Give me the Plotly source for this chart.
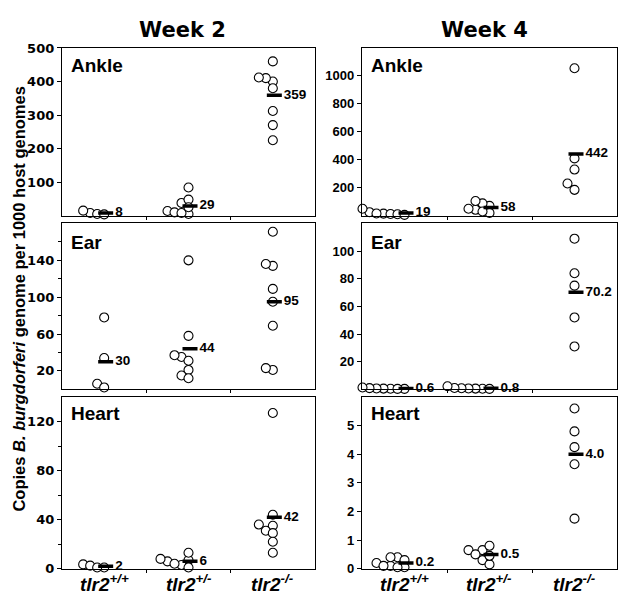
import plotly.graph_objects as go

W, H = 619, 604

# ---------------- data ----------------
categories = ["tlr2+/+", "tlr2+/-", "tlr2-/-"]
category_html = ["<b><i>tlr2<sup>+/+</sup></i></b>",
                 "<b><i>tlr2<sup>+/-</sup></i></b>",
                 "<b><i>tlr2<sup>-/-</sup></i></b>"]
tissues = ["Ankle", "Ear", "Heart"]
weeks = ["Week 2", "Week 4"]

# Week 2
w2_ankle_wt = [8, 15, 5, 4]
w2_ankle_het = [14, 10, 5, 8, 38, 48, 84, 25]
w2_ankle_ko = [460, 400, 410, 412, 380, 312, 270, 225]
w2_ear_wt = [78, 6, 2, 34]
w2_ear_het = [140, 58, 35, 37, 31, 21, 15, 12]
w2_ear_ko = [171, 134, 136, 109, 95, 69, 21, 23]
w2_heart_wt = [1, 3.5, 2.5, 1]
w2_heart_het = [6, 7, 3, 8, 1, 13, 4]
w2_heart_ko = [127, 35, 31, 44, 36, 29, 22, 13]

# Week 4
w4_ankle_wt = [15, 25, 12, 10, 6, 16, 50]
w4_ankle_het = [70, 42, 88, 20, 105, 30, 50]
w4_ankle_ko = [1055, 410, 330, 230, 185]
w4_ear_wt = [0.3, 0.4, 0.5, 0.3, 0.6, 0.8, 1.3]
w4_ear_het = [0.4, 0.5, 0.3, 0.6, 0.7, 0.9, 2.2]
w4_ear_ko = [109, 84, 75, 52, 31]
w4_heart_wt = [0.2, 0.1, 0.4, 0.3, 0.4, 0.05, 0.05, 0.1]
w4_heart_het = [0.65, 0.65, 0.8, 0.3, 0.15, 0.45, 0.5]
w4_heart_ko = [5.6, 4.8, 4.25, 3.65, 1.75]

# group means (as printed)
w2_ankle_mean = [8, 29, 359]
w2_ear_mean = [30, 44, 95]
w2_heart_mean = [2, 6, 42]
w4_ankle_mean = [19, 58, 442]
w4_ear_mean = [0.6, 0.8, 70.2]
w4_heart_mean = [0.2, 0.5, 4.0]
w2_ankle_mean_label = ["8", "29", "359"]
w2_ear_mean_label = ["30", "44", "95"]
w2_heart_mean_label = ["2", "6", "42"]
w4_ankle_mean_label = ["19", "58", "442"]
w4_ear_mean_label = ["0.6", "0.8", "70.2"]
w4_heart_mean_label = ["0.2", "0.5", "4.0"]

# y axis ranges & ticks
w2_ankle_range = [0, 500]; w2_ankle_ticks = [100, 200, 300, 400, 500]
w2_ear_range = [0, 180];   w2_ear_ticks = [20, 60, 100, 140]
w2_heart_range = [0, 140]; w2_heart_ticks = [0, 40, 80, 120]
w4_ankle_range = [0, 1200]; w4_ankle_ticks = [200, 400, 600, 800, 1000]
w4_ear_range = [0, 120];   w4_ear_ticks = [20, 40, 60, 80, 100]
w4_heart_range = [0, 6];   w4_heart_ticks = [0, 1, 2, 3, 4, 5]
w2_ear_minor = [40, 80, 120, 160]
w2_heart_minor = [20, 60, 100]

panels = {
    (0, 0): ([w2_ankle_wt, w2_ankle_het, w2_ankle_ko], w2_ankle_mean, w2_ankle_mean_label, w2_ankle_range, w2_ankle_ticks, None),
    (1, 0): ([w2_ear_wt, w2_ear_het, w2_ear_ko], w2_ear_mean, w2_ear_mean_label, w2_ear_range, w2_ear_ticks, w2_ear_minor),
    (2, 0): ([w2_heart_wt, w2_heart_het, w2_heart_ko], w2_heart_mean, w2_heart_mean_label, w2_heart_range, w2_heart_ticks, w2_heart_minor),
    (0, 1): ([w4_ankle_wt, w4_ankle_het, w4_ankle_ko], w4_ankle_mean, w4_ankle_mean_label, w4_ankle_range, w4_ankle_ticks, None),
    (1, 1): ([w4_ear_wt, w4_ear_het, w4_ear_ko], w4_ear_mean, w4_ear_mean_label, w4_ear_range, w4_ear_ticks, None),
    (2, 1): ([w4_heart_wt, w4_heart_het, w4_heart_ko], w4_heart_mean, w4_heart_mean_label, w4_heart_range, w4_heart_ticks, None),
}

# ---------------- layout geometry (pixels) ----------------
col_px = [(62, 315), (362, 617)]
row_px = [(42, 214), (222, 392), (400, 576)]
tick_fonts = ["DejaVu Sans", "Liberation Sans"]
tick_sizes = [13, 13]

def xdom(c):
    a, b = col_px[c]
    return [a / W, b / W]

def ydom(r):
    a, b = row_px[r]
    return [1 - b / H, 1 - a / H]

def swarm(values, yrange, h_px, w_px, step_px=7.0):
    """Simple leftward beeswarm; returns x offsets in category units."""
    ypx = [(v - yrange[0]) / (yrange[1] - yrange[0]) * h_px for v in values]
    order = sorted(range(len(values)), key=lambda i: values[i])
    placed = []
    offs = [0.0] * len(values)
    for i in order:
        for k in range(0, 12):
            xo = -k * step_px
            ok = all((xo - px) ** 2 + (ypx[i] - py) ** 2 >= (step_px * 0.98) ** 2 for px, py in placed)
            if ok:
                break
        placed.append((xo, ypx[i]))
        offs[i] = xo / (w_px / 3.0)
    return offs

fig = go.Figure()
layout = dict(width=W, height=H, margin=dict(l=0, r=0, t=0, b=0),
              paper_bgcolor="white", plot_bgcolor="white", showlegend=False)
annotations = []

for (r, c), (groups, means, mlabels, yr, yt, ymin) in panels.items():
    idx = r * 2 + c + 1
    xa = "xaxis" if idx == 1 else f"xaxis{idx}"
    ya = "yaxis" if idx == 1 else f"yaxis{idx}"
    xref = "x" if idx == 1 else f"x{idx}"
    yref = "y" if idx == 1 else f"y{idx}"
    w_px = col_px[c][1] - col_px[c][0]
    h_px = row_px[r][1] - row_px[r][0]
    unit = 3.0 / w_px
    layout[xa] = dict(domain=xdom(c), range=[0, 3], anchor=yref,
                      tickvals=[1, 2], ticks="outside", ticklen=3, tickcolor="black",
                      showticklabels=False, showline=True, mirror=True,
                      linecolor="black", linewidth=1.3, showgrid=False, zeroline=False)
    yax = dict(domain=ydom(r), range=yr, anchor=xref, tickvals=yt,
               ticks="outside", ticklen=4, tickcolor="black",
               tickfont=dict(family=tick_fonts[c], size=tick_sizes[c], color="black", weight="bold"),
               showline=True, mirror=True, linecolor="black", linewidth=1.3,
               showgrid=False, zeroline=False)
    if ymin:
        yax["minor"] = dict(tickvals=ymin, ticks="outside", ticklen=3, tickcolor="black", showgrid=False)
    layout[ya] = yax

    for g, vals in enumerate(groups):
        cx = g + 0.5
        offs = swarm(vals, yr, h_px, w_px)
        fig.add_trace(go.Scatter(
            x=[cx + o for o in offs], y=vals, mode="markers", xaxis=xref, yaxis=yref,
            cliponaxis=False, hoverinfo="skip",
            marker=dict(symbol="circle", size=9, color="white",
                        line=dict(color="black", width=1.1))))
        x0, x1 = cx - 6 * unit, cx + 9 * unit
        fig.add_trace(go.Scatter(
            x=[x0, x1], y=[means[g], means[g]], mode="lines", xaxis=xref, yaxis=yref,
            cliponaxis=False, hoverinfo="skip", line=dict(color="black", width=3.5)))
        fig.add_trace(go.Scatter(
            x=[x1 + 2 * unit], y=[means[g]], mode="text", text=[mlabels[g]],
            textposition="middle right", xaxis=xref, yaxis=yref, cliponaxis=False,
            hoverinfo="skip",
            textfont=dict(family="Liberation Sans", size=13.5, color="black", weight="bold")))

    # tissue label
    ycen = {0: 60, 1: 242, 2: 417}[r]
    annotations.append(dict(text=f"<b>{tissues[r]}</b>", xref="paper", yref="paper",
                            x=(col_px[c][0] + 7) / W, y=1 - ycen / H, xanchor="left", yanchor="middle",
                            showarrow=False, font=dict(family="Liberation Sans", size=19, color="black")))

# week titles
for c, (cxp) in enumerate([182, 484]):
    annotations.append(dict(text=f"<b>{weeks[c]}</b>", xref="paper", yref="paper",
                            x=cxp / W, y=1 - 24 / H, xanchor="center", yanchor="middle",
                            showarrow=False, font=dict(family="DejaVu Sans", size=21, color="black")))

# category labels
for c in range(2):
    a, b = col_px[c]
    for g in range(3):
        annotations.append(dict(text=category_html[g], xref="paper", yref="paper",
                                x=(a + (b - a) * (g + 0.5) / 3) / W, y=1 - 591 / H,
                                xanchor="center", yanchor="middle", showarrow=False,
                                font=dict(family="Liberation Sans", size=19, color="black")))

# y-axis title
annotations.append(dict(text="<b>Copies <i>B. burgdorferi</i> genome per 1000 host genomes</b>",
                        xref="paper", yref="paper", x=19 / W, y=1 - 300 / H, textangle=-90,
                        xanchor="center", yanchor="middle", showarrow=False,
                        font=dict(family="Liberation Sans", size=16.5, color="black")))

layout["annotations"] = annotations
fig.update_layout(**layout)
fig.write_html("out.html", config={"displayModeBar": False},
               post_script="document.body.style.margin='0';document.body.style.padding='0';document.body.style.overflow='hidden';")
